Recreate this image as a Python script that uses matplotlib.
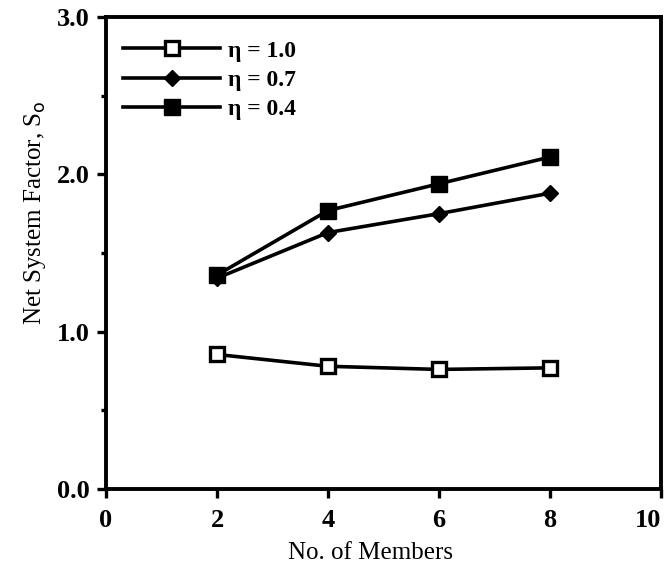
import matplotlib
matplotlib.use("Agg")
import matplotlib.pyplot as plt
from matplotlib.ticker import MultipleLocator

members = [2, 4, 6, 8]
eta_10 = [0.855, 0.78, 0.76, 0.77]
eta_07 = [1.34, 1.63, 1.75, 1.88]
eta_04 = [1.36, 1.77, 1.94, 2.11]
labels = ["η = 1.0", "η = 0.7", "η = 0.4"]
xticks = [0, 2, 4, 6, 8, 10]
yticks = [0.0, 1.0, 2.0, 3.0]

plt.rcParams['font.family'] = ['Liberation Serif', 'DejaVu Serif']

fig = plt.figure(figsize=(6.69, 5.73), dpi=100)
ax = fig.add_axes([106/669, 1-489/573, (661-106)/669, (489-17)/573])

lw = 2.6
ax.plot(members, eta_10, color='black', lw=lw, marker='s', ms=10,
        mfc='white', mec='black', mew=2.4, label=labels[0])
ax.plot(members, eta_07, color='black', lw=lw, marker='D', ms=8.5,
        mfc='black', mec='black', label=labels[1])
ax.plot(members, eta_04, color='black', lw=lw, marker='s', ms=11,
        mfc='black', mec='black', label=labels[2])

ax.set_xlim(0, 10)
ax.set_ylim(0, 3.0)
ax.set_xticks(xticks)
ax.set_xticklabels([str(v) for v in xticks])
ax.set_yticks(yticks)
ax.set_yticklabels([f"{v:.1f}" for v in yticks])
ax.yaxis.set_minor_locator(MultipleLocator(0.5))

for s in ax.spines.values():
    s.set_linewidth(2.8)

ax.tick_params(axis='both', which='major', direction='out', length=6.5, width=2.4,
               labelsize=19, pad=5)
ax.tick_params(axis='x', which='major', pad=8)
ax.tick_params(axis='y', which='minor', direction='out', length=3.5, width=2.4)
for t in ax.get_xticklabels() + ax.get_yticklabels():
    t.set_fontweight('bold')
last = ax.get_xticklabels()[-1]
last.set_horizontalalignment('right')

ax.set_xlabel("No. of Members", fontsize=18)
ax.set_ylabel("Net System Factor, S$_\\mathrm{o}$", fontsize=18)
ax.xaxis.set_label_coords(0.477, -0.112)
ax.yaxis.set_label_coords(-0.105, 0.585)

leg = ax.legend(loc='upper left', bbox_to_anchor=(0.031, 0.951), frameon=False,
                handlelength=4.1, borderaxespad=0, borderpad=0, labelspacing=0.33,
                handletextpad=0.35, prop={'weight': 'bold', 'size': 17})

fig.savefig("out.png", dpi=100)
